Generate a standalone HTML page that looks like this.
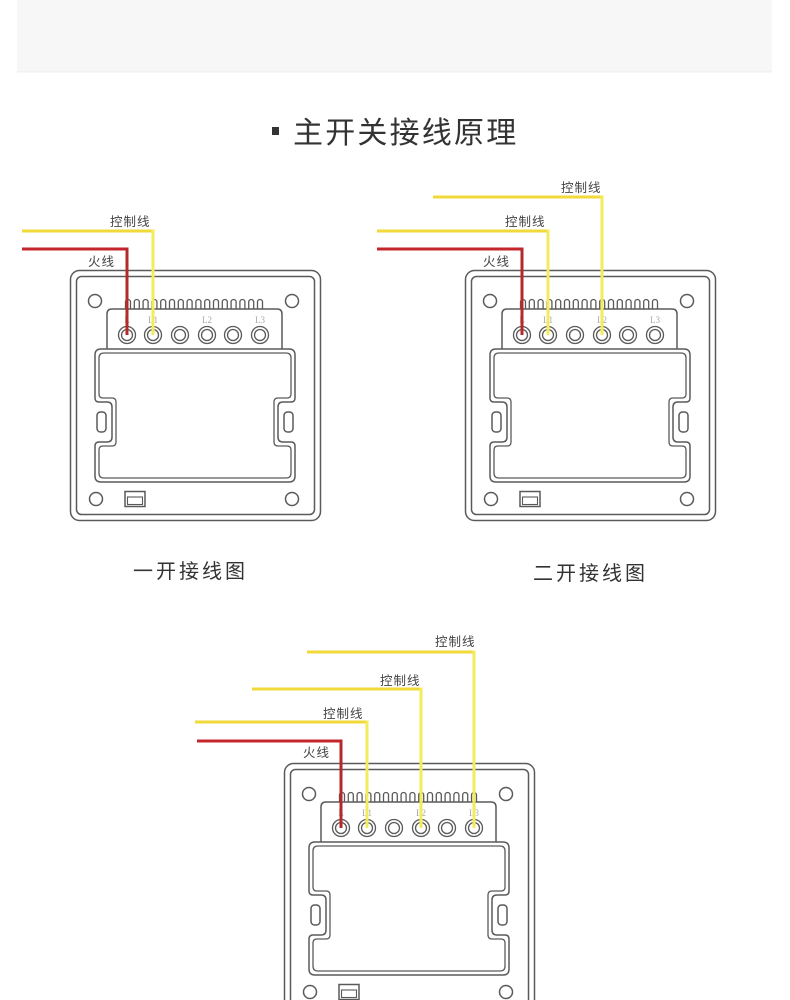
<!DOCTYPE html>
<html>
<head>
<meta charset="utf-8">
<style>
html,body{margin:0;padding:0;background:#fff;}
body{width:790px;height:1000px;overflow:hidden;}
svg{display:block;}
.t{font-family:"Liberation Sans","Noto Sans CJK SC",sans-serif;}
.lbl{font-family:"Liberation Sans","Noto Sans CJK SC",sans-serif;font-size:12.5px;fill:#444;letter-spacing:1px;}
.tl{font-family:"Liberation Serif",serif;font-size:9px;fill:#a8a8a8;text-anchor:middle;}
</style>
</head>
<body>
<svg width="790" height="1000" viewBox="0 0 790 1000" xmlns="http://www.w3.org/2000/svg">
<rect x="17" y="0" width="755" height="72" fill="#f7f7f7"/>
<rect x="17" y="71" width="755" height="1.5" fill="#f1f1f1"/>

<!-- Title -->
<rect x="272" y="127" width="7" height="8" fill="#333"/>
<text x="293" y="143" class="t" font-size="30" fill="#333" letter-spacing="2.2">主开关接线原理</text>

<!-- Panel 1 -->
<g>
<g fill="none" stroke="#5a5a5a" stroke-width="1.5">
<rect x="70.5" y="270.5" width="250" height="250" rx="9"/>
<rect x="76.5" y="276.5" width="238" height="238" rx="5"/>
<circle cx="95" cy="301" r="6.5"/>
<circle cx="292" cy="301" r="6.5"/>
<circle cx="96" cy="499" r="6.5"/>
<circle cx="292" cy="499" r="6.5"/>
<path d="M107 349V314q0-5 5-5h165q5 0 5 5v35"/>
<path stroke-width="1.3" d="M125.5 309v-7a2.5 2.5 0 0 1 5 0v7M134.3 309v-7a2.5 2.5 0 0 1 5 0v7M143.1 309v-7a2.5 2.5 0 0 1 5 0v7M151.9 309v-7a2.5 2.5 0 0 1 5 0v7M160.7 309v-7a2.5 2.5 0 0 1 5 0v7M169.5 309v-7a2.5 2.5 0 0 1 5 0v7M178.3 309v-7a2.5 2.5 0 0 1 5 0v7M187.1 309v-7a2.5 2.5 0 0 1 5 0v7M195.9 309v-7a2.5 2.5 0 0 1 5 0v7M204.7 309v-7a2.5 2.5 0 0 1 5 0v7M213.5 309v-7a2.5 2.5 0 0 1 5 0v7M222.3 309v-7a2.5 2.5 0 0 1 5 0v7M231.1 309v-7a2.5 2.5 0 0 1 5 0v7M239.9 309v-7a2.5 2.5 0 0 1 5 0v7M248.7 309v-7a2.5 2.5 0 0 1 5 0v7M257.5 309v-7a2.5 2.5 0 0 1 5 0v7"/>
<g stroke-width="1.3">
<circle cx="127" cy="335" r="8.5"/><circle cx="127" cy="335" r="5.5"/>
<circle cx="153" cy="335" r="8.5"/><circle cx="153" cy="335" r="5.5"/>
<circle cx="180" cy="335" r="8.5"/><circle cx="180" cy="335" r="5.5"/>
<circle cx="207" cy="335" r="8.5"/><circle cx="207" cy="335" r="5.5"/>
<circle cx="233" cy="335" r="8.5"/><circle cx="233" cy="335" r="5.5"/>
<circle cx="260" cy="335" r="8.5"/><circle cx="260" cy="335" r="5.5"/>
</g>
<path d="M101 349H289Q295 349 295 355V398Q295 402 291 402H283Q278 402 278 407V437Q278 442 283 442H291Q295 442 295 446V476Q295 482 289 482H101Q95 482 95 476V446Q95 442 99 442H107Q112 442 112 437V407Q112 402 107 402H99Q95 402 95 398V355Q95 349 101 349Z"/>
<path stroke-width="1.3" d="M104 353H286Q291 353 291 358V394Q291 398 287 398H278Q274 398 274 402V442Q274 446 278 446H287Q291 446 291 450V473Q291 478 286 478H104Q99 478 99 473V450Q99 446 103 446H112Q116 446 116 442V402Q116 398 112 398H103Q99 398 99 394V358Q99 353 104 353Z"/>
<rect x="97" y="412" width="9" height="20" rx="3.5"/>
<rect x="284" y="412" width="9" height="20" rx="3.5"/>
<rect x="125" y="491.5" width="20" height="15"/>
<rect x="127.5" y="497" width="15" height="7.5" stroke-width="1.1"/>
</g>
<text class="tl" x="127" y="323">L</text>
<text class="tl" x="153" y="323">L1</text>
<text class="tl" x="207" y="323">L2</text>
<text class="tl" x="260" y="323">L3</text>
</g>

<!-- Panel 2 -->
<g transform="translate(395,0)">
<g fill="none" stroke="#5a5a5a" stroke-width="1.5">
<rect x="70.5" y="270.5" width="250" height="250" rx="9"/>
<rect x="76.5" y="276.5" width="238" height="238" rx="5"/>
<circle cx="95" cy="301" r="6.5"/>
<circle cx="292" cy="301" r="6.5"/>
<circle cx="96" cy="499" r="6.5"/>
<circle cx="292" cy="499" r="6.5"/>
<path d="M107 349V314q0-5 5-5h165q5 0 5 5v35"/>
<path stroke-width="1.3" d="M125.5 309v-7a2.5 2.5 0 0 1 5 0v7M134.3 309v-7a2.5 2.5 0 0 1 5 0v7M143.1 309v-7a2.5 2.5 0 0 1 5 0v7M151.9 309v-7a2.5 2.5 0 0 1 5 0v7M160.7 309v-7a2.5 2.5 0 0 1 5 0v7M169.5 309v-7a2.5 2.5 0 0 1 5 0v7M178.3 309v-7a2.5 2.5 0 0 1 5 0v7M187.1 309v-7a2.5 2.5 0 0 1 5 0v7M195.9 309v-7a2.5 2.5 0 0 1 5 0v7M204.7 309v-7a2.5 2.5 0 0 1 5 0v7M213.5 309v-7a2.5 2.5 0 0 1 5 0v7M222.3 309v-7a2.5 2.5 0 0 1 5 0v7M231.1 309v-7a2.5 2.5 0 0 1 5 0v7M239.9 309v-7a2.5 2.5 0 0 1 5 0v7M248.7 309v-7a2.5 2.5 0 0 1 5 0v7M257.5 309v-7a2.5 2.5 0 0 1 5 0v7"/>
<g stroke-width="1.3">
<circle cx="127" cy="335" r="8.5"/><circle cx="127" cy="335" r="5.5"/>
<circle cx="153" cy="335" r="8.5"/><circle cx="153" cy="335" r="5.5"/>
<circle cx="180" cy="335" r="8.5"/><circle cx="180" cy="335" r="5.5"/>
<circle cx="207" cy="335" r="8.5"/><circle cx="207" cy="335" r="5.5"/>
<circle cx="233" cy="335" r="8.5"/><circle cx="233" cy="335" r="5.5"/>
<circle cx="260" cy="335" r="8.5"/><circle cx="260" cy="335" r="5.5"/>
</g>
<path d="M101 349H289Q295 349 295 355V398Q295 402 291 402H283Q278 402 278 407V437Q278 442 283 442H291Q295 442 295 446V476Q295 482 289 482H101Q95 482 95 476V446Q95 442 99 442H107Q112 442 112 437V407Q112 402 107 402H99Q95 402 95 398V355Q95 349 101 349Z"/>
<path stroke-width="1.3" d="M104 353H286Q291 353 291 358V394Q291 398 287 398H278Q274 398 274 402V442Q274 446 278 446H287Q291 446 291 450V473Q291 478 286 478H104Q99 478 99 473V450Q99 446 103 446H112Q116 446 116 442V402Q116 398 112 398H103Q99 398 99 394V358Q99 353 104 353Z"/>
<rect x="97" y="412" width="9" height="20" rx="3.5"/>
<rect x="284" y="412" width="9" height="20" rx="3.5"/>
<rect x="125" y="491.5" width="20" height="15"/>
<rect x="127.5" y="497" width="15" height="7.5" stroke-width="1.1"/>
</g>
<text class="tl" x="127" y="323">L</text>
<text class="tl" x="153" y="323">L1</text>
<text class="tl" x="207" y="323">L2</text>
<text class="tl" x="260" y="323">L3</text>
</g>

<!-- Panel 3 -->
<g transform="translate(214,493)">
<g fill="none" stroke="#5a5a5a" stroke-width="1.5">
<rect x="70.5" y="270.5" width="250" height="250" rx="9"/>
<rect x="76.5" y="276.5" width="238" height="238" rx="5"/>
<circle cx="95" cy="301" r="6.5"/>
<circle cx="292" cy="301" r="6.5"/>
<circle cx="96" cy="499" r="6.5"/>
<circle cx="292" cy="499" r="6.5"/>
<path d="M107 349V314q0-5 5-5h165q5 0 5 5v35"/>
<path stroke-width="1.3" d="M125.5 309v-7a2.5 2.5 0 0 1 5 0v7M134.3 309v-7a2.5 2.5 0 0 1 5 0v7M143.1 309v-7a2.5 2.5 0 0 1 5 0v7M151.9 309v-7a2.5 2.5 0 0 1 5 0v7M160.7 309v-7a2.5 2.5 0 0 1 5 0v7M169.5 309v-7a2.5 2.5 0 0 1 5 0v7M178.3 309v-7a2.5 2.5 0 0 1 5 0v7M187.1 309v-7a2.5 2.5 0 0 1 5 0v7M195.9 309v-7a2.5 2.5 0 0 1 5 0v7M204.7 309v-7a2.5 2.5 0 0 1 5 0v7M213.5 309v-7a2.5 2.5 0 0 1 5 0v7M222.3 309v-7a2.5 2.5 0 0 1 5 0v7M231.1 309v-7a2.5 2.5 0 0 1 5 0v7M239.9 309v-7a2.5 2.5 0 0 1 5 0v7M248.7 309v-7a2.5 2.5 0 0 1 5 0v7M257.5 309v-7a2.5 2.5 0 0 1 5 0v7"/>
<g stroke-width="1.3">
<circle cx="127" cy="335" r="8.5"/><circle cx="127" cy="335" r="5.5"/>
<circle cx="153" cy="335" r="8.5"/><circle cx="153" cy="335" r="5.5"/>
<circle cx="180" cy="335" r="8.5"/><circle cx="180" cy="335" r="5.5"/>
<circle cx="207" cy="335" r="8.5"/><circle cx="207" cy="335" r="5.5"/>
<circle cx="233" cy="335" r="8.5"/><circle cx="233" cy="335" r="5.5"/>
<circle cx="260" cy="335" r="8.5"/><circle cx="260" cy="335" r="5.5"/>
</g>
<path d="M101 349H289Q295 349 295 355V398Q295 402 291 402H283Q278 402 278 407V437Q278 442 283 442H291Q295 442 295 446V476Q295 482 289 482H101Q95 482 95 476V446Q95 442 99 442H107Q112 442 112 437V407Q112 402 107 402H99Q95 402 95 398V355Q95 349 101 349Z"/>
<path stroke-width="1.3" d="M104 353H286Q291 353 291 358V394Q291 398 287 398H278Q274 398 274 402V442Q274 446 278 446H287Q291 446 291 450V473Q291 478 286 478H104Q99 478 99 473V450Q99 446 103 446H112Q116 446 116 442V402Q116 398 112 398H103Q99 398 99 394V358Q99 353 104 353Z"/>
<rect x="97" y="412" width="9" height="20" rx="3.5"/>
<rect x="284" y="412" width="9" height="20" rx="3.5"/>
<rect x="125" y="491.5" width="20" height="15"/>
<rect x="127.5" y="497" width="15" height="7.5" stroke-width="1.1"/>
</g>
<text class="tl" x="127" y="323">L</text>
<text class="tl" x="153" y="323">L1</text>
<text class="tl" x="207" y="323">L2</text>
<text class="tl" x="260" y="323">L3</text>
</g>

<!-- Wires panel 1 -->
<g fill="none" stroke-width="3">
<path d="M22 231H153" stroke="#f1d93a"/>
<path d="M153 229.5V335" stroke="#f2ec5c"/>
<path d="M22 249H127" stroke="#c4262b"/>
<path d="M127 247.5V335" stroke="#b32a2b"/>
</g>
<text class="lbl" x="110" y="226">控制线</text>
<text class="lbl" x="88" y="266">火线</text>

<!-- Wires panel 2 -->
<g fill="none" stroke-width="3">
<path d="M433 197H602" stroke="#f1d93a"/>
<path d="M602 195.5V335" stroke="#f2ec5c"/>
<path d="M377 231H548" stroke="#f1d93a"/>
<path d="M548 229.5V335" stroke="#f2ec5c"/>
<path d="M377 249H522" stroke="#c4262b"/>
<path d="M522 247.5V335" stroke="#b32a2b"/>
</g>
<text class="lbl" x="561" y="192">控制线</text>
<text class="lbl" x="505" y="226">控制线</text>
<text class="lbl" x="483" y="266">火线</text>

<!-- Wires panel 3 -->
<g fill="none" stroke-width="3">
<path d="M307 652H474" stroke="#f1d93a"/>
<path d="M474 650.5V828" stroke="#f2ec5c"/>
<path d="M252 689H421" stroke="#f1d93a"/>
<path d="M421 687.5V828" stroke="#f2ec5c"/>
<path d="M195 722H367" stroke="#f1d93a"/>
<path d="M367 720.5V828" stroke="#f2ec5c"/>
<path d="M197 741H341" stroke="#c4262b"/>
<path d="M341 739.5V828" stroke="#b32a2b"/>
</g>
<text class="lbl" x="435" y="646">控制线</text>
<text class="lbl" x="380" y="685">控制线</text>
<text class="lbl" x="323" y="718">控制线</text>
<text class="lbl" x="303" y="757">火线</text>

<!-- Captions -->
<text x="133" y="578" class="t" font-size="20" fill="#333" letter-spacing="3">一开接线图</text>
<text x="533" y="580" class="t" font-size="20" fill="#333" letter-spacing="3">二开接线图</text>
</svg>
</body>
</html>
